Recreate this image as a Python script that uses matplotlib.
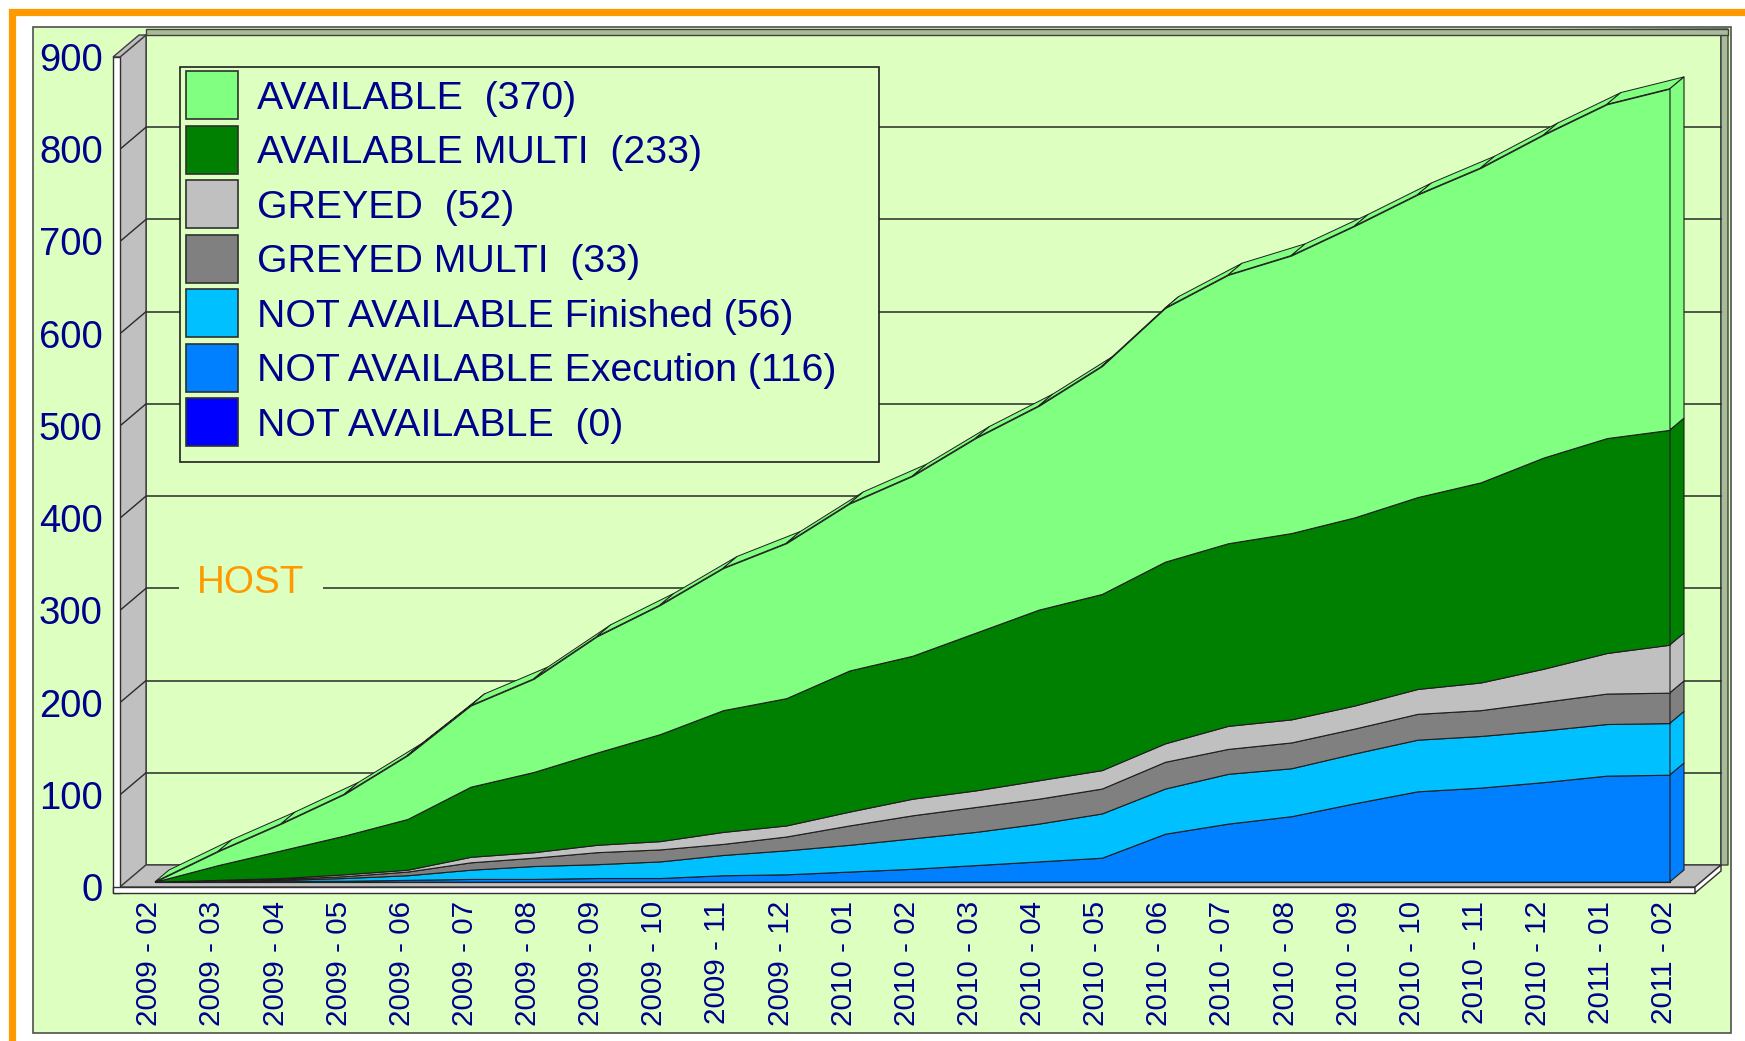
import numpy as np
import matplotlib
matplotlib.use('Agg')
import matplotlib.pyplot as plt
from matplotlib.patches import Rectangle, Polygon
from matplotlib.collections import PolyCollection

plt.rcParams['font.family'] = ['Liberation Sans', 'DejaVu Sans']

# ---------------- data ----------------
months = ['2009 - 02', '2009 - 03', '2009 - 04', '2009 - 05', '2009 - 06', '2009 - 07',
          '2009 - 08', '2009 - 09', '2009 - 10', '2009 - 11', '2009 - 12', '2010 - 01',
          '2010 - 02', '2010 - 03', '2010 - 04', '2010 - 05', '2010 - 06', '2010 - 07',
          '2010 - 08', '2010 - 09', '2010 - 10', '2010 - 11', '2010 - 12', '2011 - 01',
          '2011 - 02']

not_available = [0] * 25
not_available_exec = [0, 0, 1, 1, 2, 3, 3, 4, 4, 7, 8, 11, 14, 18, 22, 26, 52, 63, 71, 85, 98, 102, 108, 115, 116]
not_available_fin = [0, 1, 1, 3, 5, 10, 14, 15, 18, 22, 26, 29, 33, 36, 41, 48, 49, 54, 52, 54, 56, 56, 56, 56, 56]
greyed_multi = [0, 0, 1, 2, 4, 8, 9, 13, 13, 12, 15, 21, 25, 27, 27, 27, 29, 27, 28, 27, 28, 28, 31, 33, 33]
greyed = [0, 1, 1, 2, 2, 6, 6, 8, 9, 13, 12, 15, 18, 18, 20, 20, 20, 25, 25, 25, 27, 30, 36, 44, 52]
available_multi = [0, 16, 30, 42, 55, 76, 87, 100, 116, 132, 138, 153, 155, 171, 185, 191, 197, 198, 202, 204, 208, 217, 229, 233, 233]
available = [0, 15, 29, 45, 69, 88, 101, 126, 140, 154, 168, 181, 195, 211, 221, 247, 275, 291, 301, 316, 328, 341, 350, 362, 370]

series = [not_available, not_available_exec, not_available_fin, greyed_multi,
          greyed, available_multi, available]
series_base = ['NOT AVAILABLE ', 'NOT AVAILABLE Execution', 'NOT AVAILABLE Finished',
               'GREYED MULTI ', 'GREYED ', 'AVAILABLE MULTI ', 'AVAILABLE ']
colors = ['#0000FF', '#0080FF', '#00C0FF', '#808080', '#C0C0C0', '#008000', '#80FF80']

yticks = list(range(0, 1000, 100))
title = 'HOST'

# ---------------- style ----------------
BG = '#DDFFC0'
NAVY = '#00008C'
ORANGE = '#FF9900'
EDGE = '#1E1E1E'

FW, FH = 1745, 1041
fig = plt.figure(figsize=(FW / 100, FH / 100), dpi=100)
fig.patch.set_facecolor('white')


def fx(x):
    return x / FW


def fy(y):
    return 1 - y / FH


# panel
fig.patches.append(Rectangle((fx(33), fy(1033)), (1731 - 33) / FW, (1033 - 27) / FH,
                             transform=fig.transFigure, facecolor=BG, edgecolor='#505050',
                             lw=1.2, zorder=-10))
# orange frame (clipped at right/bottom)
fig.patches.append(Rectangle((fx(12), fy(1100)), (1800 - 12) / FW, (1100 - 12) / FH,
                             transform=fig.transFigure, facecolor='none', edgecolor=ORANGE,
                             lw=5.2, zorder=20))

# axes = front plane of the 3D box
AX_L, AX_R, AX_T, AX_B = 120, 1695, 57, 887
X0_PX, STEP = 149.25, 63.125
ax = fig.add_axes([fx(AX_L), fy(AX_B), (AX_R - AX_L) / FW, (AX_B - AX_T) / FH])
ax.set_facecolor('none')
xmin = (AX_L - X0_PX) / STEP
xmax = (AX_R - X0_PX) / STEP
YMAX = 900
PX_X = STEP
PX_Y = (AX_B - AX_T) / YMAX


def dxy(px, py):
    return px / PX_X, py / PX_Y


wx, wy = dxy(26, 22)          # full depth of the box
fdx, fdy = dxy(5.75, 5.3)     # data front plane
bdx, bdy = dxy(19.75, 17)     # data back plane
sx, sy = dxy(7, 6)            # slab thickness

# back wall
ax.add_patch(Rectangle((xmin + wx, wy), xmax - xmin, YMAX, facecolor=BG,
                       edgecolor='#404040', lw=1.2, clip_on=False, zorder=1))
# rim of back wall (top and right)
rx, ry = dxy(7, 6)
ax.add_patch(Polygon([(xmin + wx, YMAX + wy), (xmax + wx + rx, YMAX + wy + ry),
                      (xmax + wx + rx, wy), (xmax + wx, wy), (xmax + wx, YMAX + wy),
                      (xmin + wx, YMAX + wy)], closed=True, facecolor='#A9BC98',
                     edgecolor='#404040', lw=1.0, clip_on=False, zorder=1))
ax.add_patch(Rectangle((xmin + wx, YMAX + wy), (xmax + wx + rx) - (xmin + wx), ry,
                       facecolor='#A9BC98', edgecolor='#404040', lw=1.0, clip_on=False, zorder=1))

# left wall
ax.add_patch(Polygon([(xmin, 0), (xmin + wx, wy), (xmin + wx, YMAX + wy), (xmin, YMAX)],
                     closed=True, facecolor='#C0C0C0', edgecolor='#404040', lw=1.0,
                     clip_on=False, zorder=2))
# wall top cap and front face
ax.add_patch(Polygon([(xmin - sx, YMAX), (xmin, YMAX), (xmin + wx, YMAX + wy),
                      (xmin - sx + wx, YMAX + wy)], closed=True, facecolor='#C0C0C0',
                     edgecolor='#404040', lw=1.0, clip_on=False, zorder=2))
ax.add_patch(Rectangle((xmin - sx, -sy), sx, YMAX + sy, facecolor='white',
                       edgecolor='#303030', lw=1.0, clip_on=False, zorder=3))

# gridlines on back wall and left wall
for v in yticks[1:-1]:
    ax.plot([xmin + wx, xmax + wx], [v + wy, v + wy], color='#2A2A2A', lw=1.1,
            clip_on=False, zorder=1.5)
    ax.plot([xmin, xmin + wx], [v, v + wy], color='#2A2A2A', lw=1.0,
            clip_on=False, zorder=2.5)

# floor
ax.add_patch(Polygon([(xmin, 0), (xmax, 0), (xmax + wx, wy), (xmin + wx, wy)],
                     closed=True, facecolor='#C0C0C0', edgecolor='#404040', lw=1.0,
                     clip_on=False, zorder=2))
ax.add_patch(Rectangle((xmin - sx, -sy), xmax - xmin + sx, sy, facecolor='white',
                       edgecolor='#303030', lw=1.0, clip_on=False, zorder=3))
ax.add_patch(Polygon([(xmax, 0), (xmax + wx, wy), (xmax + wx, wy - sy), (xmax, -sy)],
                     closed=True, facecolor='white', edgecolor='#303030', lw=1.0,
                     clip_on=False, zorder=3))

# ---------------- stacked areas ----------------
x = np.arange(len(months))
stack = np.array(series, dtype=float)
upper = np.cumsum(stack, axis=0)
lower = np.vstack([np.zeros(len(x)), upper[:-1]])

# top ribbon of the top series
top = upper[-1]
quads = []
for k in range(len(x) - 1):
    quads.append([(x[k] + fdx, top[k] + fdy), (x[k + 1] + fdx, top[k + 1] + fdy),
                  (x[k + 1] + bdx, top[k + 1] + bdy), (x[k] + bdx, top[k] + bdy)])
ax.add_collection(PolyCollection(quads, facecolors=colors[-1], edgecolors=EDGE,
                                 linewidths=0.7, clip_on=False, zorder=4))

for j in range(len(series)):
    ax.fill_between(x + fdx, lower[j] + fdy, upper[j] + fdy, facecolor=colors[j],
                    edgecolor=EDGE, lw=0.8, zorder=5, clip_on=False)
    xe = x[-1]
    if upper[j][-1] > lower[j][-1]:
        ax.add_patch(Polygon([(xe + fdx, lower[j][-1] + fdy), (xe + fdx, upper[j][-1] + fdy),
                              (xe + bdx, upper[j][-1] + bdy), (xe + bdx, lower[j][-1] + bdy)],
                             closed=True, facecolor=colors[j], edgecolor=EDGE, lw=0.8,
                             clip_on=False, zorder=5))

ax.set_xlim(xmin, xmax)
ax.set_ylim(0, YMAX)
for s in ax.spines.values():
    s.set_visible(False)
ax.set_yticks(yticks)
ax.set_yticklabels([str(v) for v in yticks], fontsize=27.5, color=NAVY)
ax.tick_params(axis='y', length=0, pad=12.5)
ax.set_xticks(x)
ax.set_xticklabels(months, rotation=90, fontsize=21.3, color=NAVY)
ax.tick_params(axis='x', length=0, pad=10)

# ---------------- legend ----------------
LG_L, LG_T, LG_R, LG_B = 180, 67, 879, 462
fig.patches.append(Rectangle((fx(LG_L), fy(LG_B)), (LG_R - LG_L) / FW, (LG_B - LG_T) / FH,
                             transform=fig.transFigure, facecolor=BG, edgecolor='#202020',
                             lw=1.2, zorder=10))
PITCH = 54.5
for k, j in enumerate(reversed(range(len(series)))):
    ytop = 71.2 + PITCH * k
    fig.patches.append(Rectangle((fx(186), fy(ytop + 48)), 52 / FW, 48 / FH,
                                 transform=fig.transFigure, facecolor=colors[j],
                                 edgecolor='#303030', lw=1.2, zorder=11))
    fig.text(fx(257), fy(ytop + 27.5), f"{series_base[j]} ({series[j][-1]})",
             ha='left', va='center', fontsize=28.3, color=NAVY, zorder=12)

# title "HOST" on the 300 gridline
fig.text(fx(251), fy(593), title, ha='center', va='baseline', fontsize=27.8, color=ORANGE,
         zorder=6, bbox=dict(facecolor=BG, edgecolor='none', pad=13))

fig.savefig('out.png', dpi=100)
